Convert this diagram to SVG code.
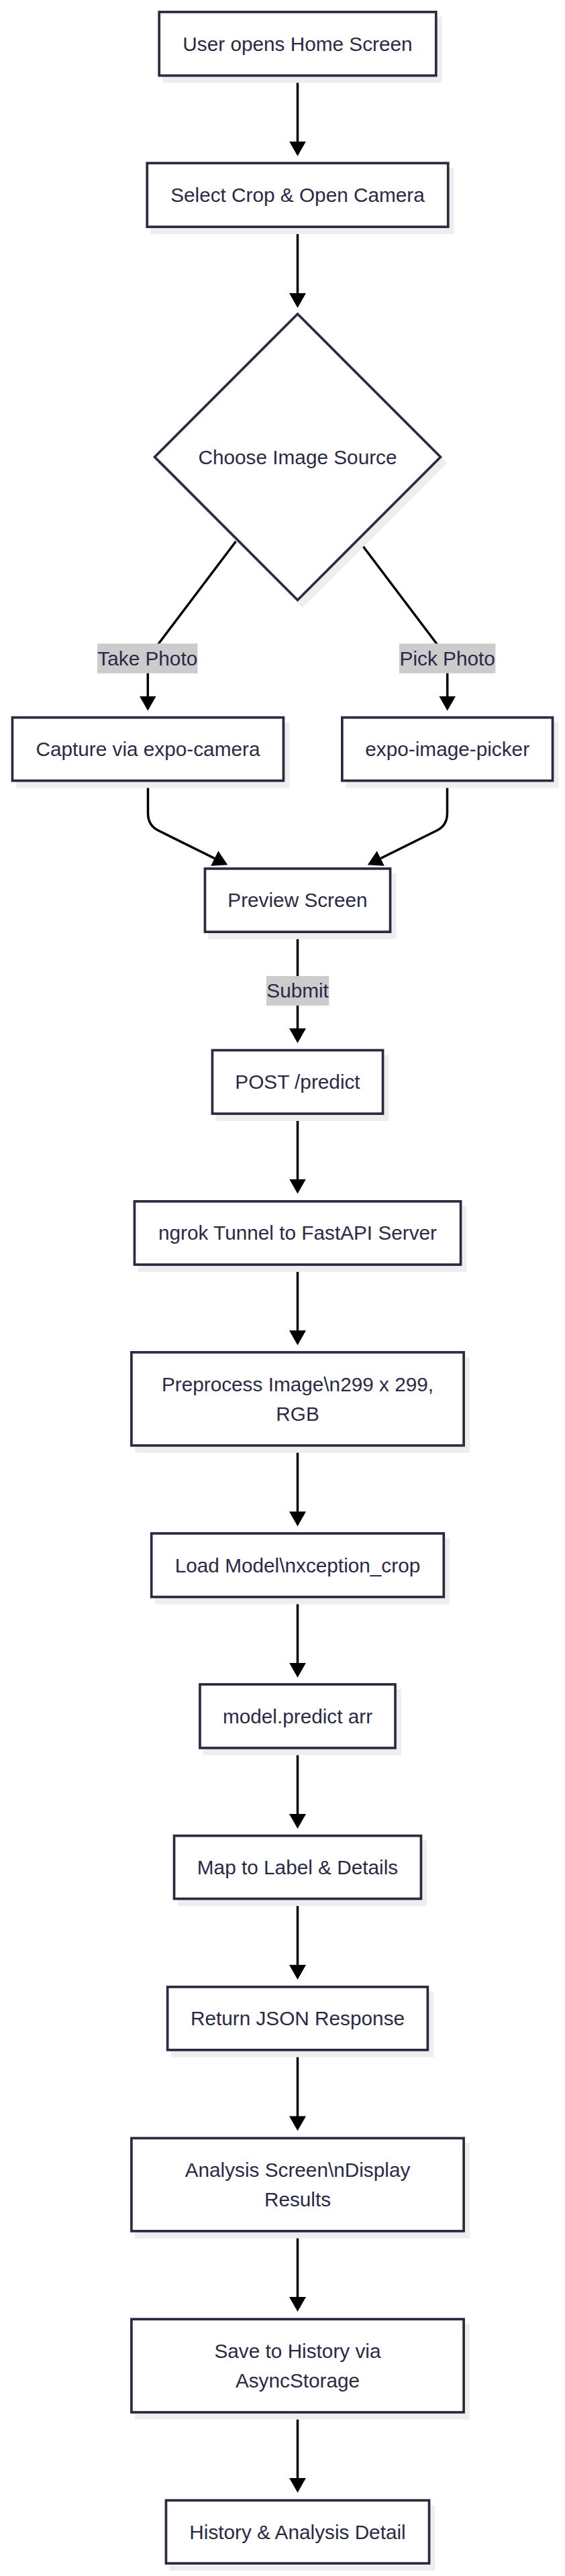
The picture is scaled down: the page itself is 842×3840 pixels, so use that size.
<svg xmlns="http://www.w3.org/2000/svg" width="842" height="3840" viewBox="0 0 842 3840">
<style>
  .node { fill: #ffffff; stroke: #2a2a40; stroke-width: 3.7; }
  .shadow { fill: #eeeeee; stroke: #eeeeee; stroke-width: 3.7; }
  .label { font-family: "Liberation Sans", Arial, sans-serif; font-size: 29.76px; fill: #2a2a45; text-anchor: middle; }
  .edge { fill: none; stroke: #000000; stroke-width: 3.5; }
  .elbg { fill: #cccccc; }
</style>
<defs>
  <marker id="arrow" viewBox="0 0 22 25" markerWidth="22" markerHeight="25" refX="18" refY="12.5" markerUnits="userSpaceOnUse" orient="auto">
    <path d="M0,0 L22,12.5 L0,25 z" fill="#000000"/>
  </marker>
</defs>
<rect x="0" y="0" width="842" height="3840" fill="#ffffff"/>

<g id="connectors">
  <path class="edge" d="M443.5,114.5 L443.5,228.7" marker-end="url(#arrow)"/>
  <path class="edge" d="M443.5,340 L443.5,455" marker-end="url(#arrow)"/>
  <path class="edge" d="M351.7,806.7 L236.7,959 Q220.3,981 220.3,1003 L220.3,1055.6" marker-end="url(#arrow)"/>
  <path class="edge" d="M535.3,806.7 L650.3,959 Q666.7,981 666.7,1003 L666.7,1055.6" marker-end="url(#arrow)"/>
  <path class="edge" d="M220.5,1165.6 L220.5,1212 Q220.5,1230 235,1237.5 L335.7,1287.5" marker-end="url(#arrow)"/>
  <path class="edge" d="M666.5,1165.6 L666.5,1212 Q666.5,1230 652,1237.5 L551.3,1287.5" marker-end="url(#arrow)"/>
  <path class="edge" d="M443.5,1391 L443.5,1551" marker-end="url(#arrow)"/>
  <path class="edge" d="M443.5,1662 L443.5,1775.5" marker-end="url(#arrow)"/>
  <path class="edge" d="M443.5,1887 L443.5,2001.3" marker-end="url(#arrow)"/>
  <path class="edge" d="M443.5,2156.6 L443.5,2271.3" marker-end="url(#arrow)"/>
  <path class="edge" d="M443.5,2382.4 L443.5,2496.7" marker-end="url(#arrow)"/>
  <path class="edge" d="M443.5,2607.5 L443.5,2722" marker-end="url(#arrow)"/>
  <path class="edge" d="M443.5,2832.3 L443.5,2947" marker-end="url(#arrow)"/>
  <path class="edge" d="M443.5,3057.7 L443.5,3172.4" marker-end="url(#arrow)"/>
  <path class="edge" d="M443.5,3327.7 L443.5,3442" marker-end="url(#arrow)"/>
  <path class="edge" d="M443.5,3597.8 L443.5,3711.8" marker-end="url(#arrow)"/>
</g>

<g id="edge-labels">
  <g id="label-take-photo">
    <rect class="elbg" x="145" y="959.3" width="149.5" height="44.4"/>
    <text class="label" x="219.8" y="991.8">Take Photo</text>
  </g>
  <g id="label-pick-photo">
    <rect class="elbg" x="595" y="959.3" width="143.4" height="44.4"/>
    <text class="label" x="666.7" y="991.8">Pick Photo</text>
  </g>
  <g id="label-submit">
    <rect class="elbg" x="396.9" y="1455" width="93.4" height="44"/>
    <text class="label" x="443.6" y="1487.3">Submit</text>
  </g>
</g>

<g id="node-home">
  <rect class="shadow" x="237.2" y="17.85" width="412.6" height="94.8" transform="translate(7,9)"/>
  <rect class="node" x="237.2" y="17.85" width="412.6" height="94.8"/>
  <text class="label" x="443.5" y="75.5">User opens Home Screen</text>
</g>
<g id="node-select">
  <rect class="shadow" x="219.25" y="243.15" width="448.5" height="95" transform="translate(7,9)"/>
  <rect class="node" x="219.25" y="243.15" width="448.5" height="95"/>
  <text class="label" x="443.5" y="301">Select Crop &amp; Open Camera</text>
</g>
<g id="node-choose">
  <polygon class="shadow" points="443.5,468 656.5,681.2 443.5,894.5 230.5,681.2" transform="translate(7,9)"/>
  <polygon class="node" points="443.5,468 656.5,681.2 443.5,894.5 230.5,681.2"/>
  <text class="label" x="443.5" y="691.5">Choose Image Source</text>
</g>
<g id="node-capture">
  <rect class="shadow" x="18.45" y="1069.55" width="404" height="94.2" transform="translate(7,9)"/>
  <rect class="node" x="18.45" y="1069.55" width="404" height="94.2"/>
  <text class="label" x="220.45" y="1127">Capture via expo-camera</text>
</g>
<g id="node-picker">
  <rect class="shadow" x="509.85" y="1069.55" width="313.7" height="94.2" transform="translate(7,9)"/>
  <rect class="node" x="509.85" y="1069.55" width="313.7" height="94.2"/>
  <text class="label" x="666.7" y="1127">expo-image-picker</text>
</g>
<g id="node-preview">
  <rect class="shadow" x="305.45" y="1294.85" width="276.1" height="94.3" transform="translate(7,9)"/>
  <rect class="node" x="305.45" y="1294.85" width="276.1" height="94.3"/>
  <text class="label" x="443.5" y="1352.3">Preview Screen</text>
</g>
<g id="node-post">
  <rect class="shadow" x="316.45" y="1565.55" width="254.1" height="94.6" transform="translate(7,9)"/>
  <rect class="node" x="316.45" y="1565.55" width="254.1" height="94.6"/>
  <text class="label" x="443.5" y="1623.2">POST /predict</text>
</g>
<g id="node-ngrok">
  <rect class="shadow" x="200.45" y="1790.85" width="486.1" height="94.3" transform="translate(7,9)"/>
  <rect class="node" x="200.45" y="1790.85" width="486.1" height="94.3"/>
  <text class="label" x="443.5" y="1848.3">ngrok Tunnel to FastAPI Server</text>
</g>
<g id="node-preprocess">
  <rect class="shadow" x="195.9" y="2015.85" width="495.2" height="138.9" transform="translate(7,9)"/>
  <rect class="node" x="195.9" y="2015.85" width="495.2" height="138.9"/>
  <text class="label" x="443.5" y="2073.6">Preprocess Image\n299 x 299,</text>
  <text class="label" x="443.5" y="2117.6">RGB</text>
</g>
<g id="node-load">
  <rect class="shadow" x="225.7" y="2285.85" width="435.6" height="94.7" transform="translate(7,9)"/>
  <rect class="node" x="225.7" y="2285.85" width="435.6" height="94.7"/>
  <text class="label" x="443.5" y="2343.5">Load Model\nxception_crop</text>
</g>
<g id="node-predict">
  <rect class="shadow" x="297.95" y="2510.85" width="291.1" height="94.8" transform="translate(7,9)"/>
  <rect class="node" x="297.95" y="2510.85" width="291.1" height="94.8"/>
  <text class="label" x="443.5" y="2568.5">model.predict arr</text>
</g>
<g id="node-map">
  <rect class="shadow" x="259.55" y="2736.55" width="367.9" height="93.9" transform="translate(7,9)"/>
  <rect class="node" x="259.55" y="2736.55" width="367.9" height="93.9"/>
  <text class="label" x="443.5" y="2793.8">Map to Label &amp; Details</text>
</g>
<g id="node-return">
  <rect class="shadow" x="249.65" y="2961.85" width="387.7" height="94" transform="translate(7,9)"/>
  <rect class="node" x="249.65" y="2961.85" width="387.7" height="94"/>
  <text class="label" x="443.5" y="3019.2">Return JSON Response</text>
</g>
<g id="node-analysis">
  <rect class="shadow" x="195.9" y="3187.35" width="495.2" height="138.5" transform="translate(7,9)"/>
  <rect class="node" x="195.9" y="3187.35" width="495.2" height="138.5"/>
  <text class="label" x="443.5" y="3244.9">Analysis Screen\nDisplay</text>
  <text class="label" x="443.5" y="3288.9">Results</text>
</g>
<g id="node-save">
  <rect class="shadow" x="195.9" y="3457.15" width="495.2" height="138.8" transform="translate(7,9)"/>
  <rect class="node" x="195.9" y="3457.15" width="495.2" height="138.8"/>
  <text class="label" x="443.5" y="3514.85">Save to History via</text>
  <text class="label" x="443.5" y="3558.85">AsyncStorage</text>
</g>
<g id="node-history">
  <rect class="shadow" x="247.45" y="3727.25" width="392.1" height="93.9" transform="translate(7,9)"/>
  <rect class="node" x="247.45" y="3727.25" width="392.1" height="93.9"/>
  <text class="label" x="443.5" y="3784.5">History &amp; Analysis Detail</text>
</g>
</svg>
